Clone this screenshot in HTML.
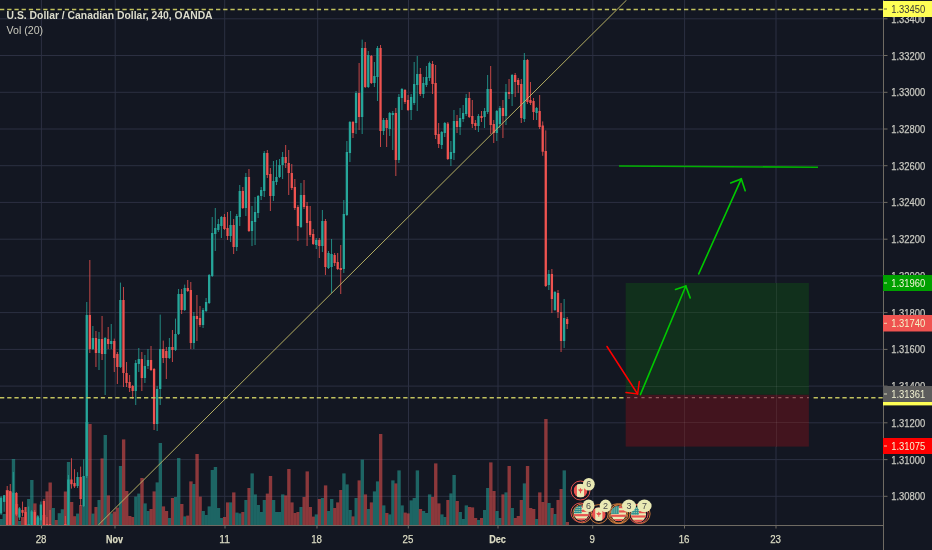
<!DOCTYPE html>
<html><head><meta charset="utf-8"><title>USDCAD chart</title>
<style>html,body{margin:0;padding:0;background:#131722;overflow:hidden}body{width:932px;height:550px;font-family:"Liberation Sans",sans-serif}</style>
</head><body>
<svg width="932" height="550" viewBox="0 0 932 550" style="display:block;filter:blur(0.4px);font-family:'Liberation Sans',sans-serif">
<rect width="932" height="550" fill="#131722"/>
<defs><clipPath id="pane"><rect x="0" y="0" width="883" height="525"/></clipPath></defs>
<g stroke="#2c3042" stroke-width="1">
<line x1="41.4" y1="0" x2="41.4" y2="525"/>
<line x1="115.2" y1="0" x2="115.2" y2="525"/>
<line x1="224.7" y1="0" x2="224.7" y2="525"/>
<line x1="317.7" y1="0" x2="317.7" y2="525"/>
<line x1="408.5" y1="0" x2="408.5" y2="525"/>
<line x1="498.0" y1="0" x2="498.0" y2="525"/>
<line x1="592.8" y1="0" x2="592.8" y2="525"/>
<line x1="684.6" y1="0" x2="684.6" y2="525"/>
<line x1="776.0" y1="0" x2="776.0" y2="525"/>
<line x1="0" y1="18.8" x2="883" y2="18.8"/>
<line x1="0" y1="55.5" x2="883" y2="55.5"/>
<line x1="0" y1="92.3" x2="883" y2="92.3"/>
<line x1="0" y1="129.0" x2="883" y2="129.0"/>
<line x1="0" y1="165.7" x2="883" y2="165.7"/>
<line x1="0" y1="202.4" x2="883" y2="202.4"/>
<line x1="0" y1="239.2" x2="883" y2="239.2"/>
<line x1="0" y1="275.9" x2="883" y2="275.9"/>
<line x1="0" y1="312.6" x2="883" y2="312.6"/>
<line x1="0" y1="349.4" x2="883" y2="349.4"/>
<line x1="0" y1="386.1" x2="883" y2="386.1"/>
<line x1="0" y1="422.8" x2="883" y2="422.8"/>
<line x1="0" y1="459.6" x2="883" y2="459.6"/>
<line x1="0" y1="496.3" x2="883" y2="496.3"/>
</g>
<g clip-path="url(#pane)">
<g opacity="0.55">
<rect x="-0.45" y="519.0" width="3.36" height="6.0" fill="#26a69a"/>
<rect x="2.61" y="514.0" width="3.36" height="11.0" fill="#26a69a"/>
<rect x="5.67" y="490.0" width="3.36" height="35.0" fill="#ef5350"/>
<rect x="8.73" y="492.0" width="3.36" height="33.0" fill="#ef5350"/>
<rect x="11.79" y="459.0" width="3.36" height="66.0" fill="#26a69a"/>
<rect x="14.85" y="504.0" width="3.36" height="21.0" fill="#ef5350"/>
<rect x="17.91" y="521.0" width="3.36" height="4.0" fill="#26a69a"/>
<rect x="20.97" y="517.0" width="3.36" height="8.0" fill="#ef5350"/>
<rect x="24.03" y="507.0" width="3.36" height="18.0" fill="#ef5350"/>
<rect x="27.09" y="499.0" width="3.36" height="26.0" fill="#26a69a"/>
<rect x="30.15" y="480.0" width="3.36" height="45.0" fill="#26a69a"/>
<rect x="33.21" y="503.4" width="3.36" height="21.6" fill="#ef5350"/>
<rect x="36.27" y="518.0" width="3.36" height="7.0" fill="#26a69a"/>
<rect x="39.33" y="520.0" width="3.36" height="5.0" fill="#26a69a"/>
<rect x="42.39" y="515.0" width="3.36" height="10.0" fill="#ef5350"/>
<rect x="45.45" y="491.4" width="3.36" height="33.6" fill="#ef5350"/>
<rect x="48.51" y="482.5" width="3.36" height="42.5" fill="#ef5350"/>
<rect x="51.57" y="508.0" width="3.36" height="17.0" fill="#26a69a"/>
<rect x="54.63" y="520.0" width="3.36" height="5.0" fill="#ef5350"/>
<rect x="57.69" y="513.2" width="3.36" height="11.8" fill="#26a69a"/>
<rect x="60.75" y="509.3" width="3.36" height="15.7" fill="#26a69a"/>
<rect x="63.81" y="491.5" width="3.36" height="33.5" fill="#ef5350"/>
<rect x="66.87" y="462.0" width="3.36" height="63.0" fill="#26a69a"/>
<rect x="69.93" y="502.0" width="3.36" height="23.0" fill="#ef5350"/>
<rect x="72.99" y="516.2" width="3.36" height="8.8" fill="#ef5350"/>
<rect x="76.05" y="513.6" width="3.36" height="11.4" fill="#26a69a"/>
<rect x="79.11" y="505.0" width="3.36" height="20.0" fill="#ef5350"/>
<rect x="82.17" y="506.0" width="3.36" height="19.0" fill="#26a69a"/>
<rect x="85.23" y="422.0" width="3.36" height="103.0" fill="#26a69a"/>
<rect x="88.29" y="424.0" width="3.36" height="101.0" fill="#ef5350"/>
<rect x="91.35" y="513.6" width="3.36" height="11.4" fill="#26a69a"/>
<rect x="94.41" y="507.0" width="3.36" height="18.0" fill="#ef5350"/>
<rect x="97.47" y="500.0" width="3.36" height="25.0" fill="#26a69a"/>
<rect x="100.53" y="458.4" width="3.36" height="66.6" fill="#ef5350"/>
<rect x="103.59" y="435.0" width="3.36" height="90.0" fill="#26a69a"/>
<rect x="106.65" y="495.4" width="3.36" height="29.6" fill="#ef5350"/>
<rect x="109.71" y="513.4" width="3.36" height="11.6" fill="#26a69a"/>
<rect x="112.77" y="511.6" width="3.36" height="13.4" fill="#ef5350"/>
<rect x="115.83" y="507.6" width="3.36" height="17.4" fill="#ef5350"/>
<rect x="118.89" y="466.0" width="3.36" height="59.0" fill="#26a69a"/>
<rect x="121.95" y="439.4" width="3.36" height="85.6" fill="#ef5350"/>
<rect x="125.01" y="491.0" width="3.36" height="34.0" fill="#ef5350"/>
<rect x="128.07" y="516.0" width="3.36" height="9.0" fill="#ef5350"/>
<rect x="131.13" y="517.0" width="3.36" height="8.0" fill="#ef5350"/>
<rect x="134.19" y="496.6" width="3.36" height="28.4" fill="#26a69a"/>
<rect x="137.25" y="493.6" width="3.36" height="31.4" fill="#26a69a"/>
<rect x="140.31" y="478.0" width="3.36" height="47.0" fill="#ef5350"/>
<rect x="143.37" y="503.4" width="3.36" height="21.6" fill="#26a69a"/>
<rect x="146.43" y="511.0" width="3.36" height="14.0" fill="#26a69a"/>
<rect x="149.49" y="509.0" width="3.36" height="16.0" fill="#ef5350"/>
<rect x="152.55" y="491.4" width="3.36" height="33.6" fill="#ef5350"/>
<rect x="155.61" y="482.4" width="3.36" height="42.6" fill="#26a69a"/>
<rect x="158.67" y="443.0" width="3.36" height="82.0" fill="#26a69a"/>
<rect x="161.73" y="506.4" width="3.36" height="18.6" fill="#ef5350"/>
<rect x="164.79" y="511.0" width="3.36" height="14.0" fill="#ef5350"/>
<rect x="167.85" y="518.0" width="3.36" height="7.0" fill="#26a69a"/>
<rect x="170.91" y="498.0" width="3.36" height="27.0" fill="#ef5350"/>
<rect x="173.97" y="497.0" width="3.36" height="28.0" fill="#26a69a"/>
<rect x="177.03" y="458.0" width="3.36" height="67.0" fill="#26a69a"/>
<rect x="180.09" y="504.0" width="3.36" height="21.0" fill="#ef5350"/>
<rect x="183.15" y="516.4" width="3.36" height="8.6" fill="#26a69a"/>
<rect x="186.21" y="515.6" width="3.36" height="9.4" fill="#ef5350"/>
<rect x="189.27" y="481.4" width="3.36" height="43.6" fill="#ef5350"/>
<rect x="192.33" y="484.0" width="3.36" height="41.0" fill="#26a69a"/>
<rect x="195.39" y="454.0" width="3.36" height="71.0" fill="#ef5350"/>
<rect x="198.45" y="496.6" width="3.36" height="28.4" fill="#ef5350"/>
<rect x="201.51" y="511.0" width="3.36" height="14.0" fill="#26a69a"/>
<rect x="204.57" y="515.0" width="3.36" height="10.0" fill="#26a69a"/>
<rect x="207.63" y="506.4" width="3.36" height="18.6" fill="#26a69a"/>
<rect x="210.69" y="470.0" width="3.36" height="55.0" fill="#26a69a"/>
<rect x="213.75" y="467.0" width="3.36" height="58.0" fill="#26a69a"/>
<rect x="216.81" y="508.0" width="3.36" height="17.0" fill="#26a69a"/>
<rect x="219.87" y="518.0" width="3.36" height="7.0" fill="#26a69a"/>
<rect x="222.93" y="517.0" width="3.36" height="8.0" fill="#ef5350"/>
<rect x="225.99" y="502.4" width="3.36" height="22.6" fill="#ef5350"/>
<rect x="229.05" y="502.4" width="3.36" height="22.6" fill="#26a69a"/>
<rect x="232.11" y="492.4" width="3.36" height="32.6" fill="#ef5350"/>
<rect x="235.17" y="512.6" width="3.36" height="12.4" fill="#26a69a"/>
<rect x="238.23" y="513.4" width="3.36" height="11.6" fill="#26a69a"/>
<rect x="241.29" y="512.0" width="3.36" height="13.0" fill="#ef5350"/>
<rect x="244.35" y="500.0" width="3.36" height="25.0" fill="#26a69a"/>
<rect x="247.41" y="488.0" width="3.36" height="37.0" fill="#ef5350"/>
<rect x="250.47" y="473.4" width="3.36" height="51.6" fill="#26a69a"/>
<rect x="253.53" y="494.4" width="3.36" height="30.6" fill="#26a69a"/>
<rect x="256.59" y="505.0" width="3.36" height="20.0" fill="#26a69a"/>
<rect x="259.65" y="512.0" width="3.36" height="13.0" fill="#26a69a"/>
<rect x="262.71" y="500.0" width="3.36" height="25.0" fill="#26a69a"/>
<rect x="265.77" y="493.6" width="3.36" height="31.4" fill="#ef5350"/>
<rect x="268.83" y="476.0" width="3.36" height="49.0" fill="#ef5350"/>
<rect x="271.89" y="500.0" width="3.36" height="25.0" fill="#26a69a"/>
<rect x="274.95" y="512.0" width="3.36" height="13.0" fill="#26a69a"/>
<rect x="278.01" y="512.0" width="3.36" height="13.0" fill="#26a69a"/>
<rect x="281.07" y="494.4" width="3.36" height="30.6" fill="#26a69a"/>
<rect x="284.13" y="495.4" width="3.36" height="29.6" fill="#ef5350"/>
<rect x="287.19" y="469.0" width="3.36" height="56.0" fill="#ef5350"/>
<rect x="290.25" y="502.4" width="3.36" height="22.6" fill="#ef5350"/>
<rect x="293.31" y="513.0" width="3.36" height="12.0" fill="#ef5350"/>
<rect x="296.37" y="512.0" width="3.36" height="13.0" fill="#ef5350"/>
<rect x="299.43" y="507.0" width="3.36" height="18.0" fill="#26a69a"/>
<rect x="302.49" y="497.0" width="3.36" height="28.0" fill="#ef5350"/>
<rect x="305.55" y="471.4" width="3.36" height="53.6" fill="#ef5350"/>
<rect x="308.61" y="507.0" width="3.36" height="18.0" fill="#ef5350"/>
<rect x="311.67" y="516.6" width="3.36" height="8.4" fill="#ef5350"/>
<rect x="314.73" y="514.4" width="3.36" height="10.6" fill="#26a69a"/>
<rect x="317.79" y="499.0" width="3.36" height="26.0" fill="#ef5350"/>
<rect x="320.85" y="498.0" width="3.36" height="27.0" fill="#26a69a"/>
<rect x="323.91" y="485.4" width="3.36" height="39.6" fill="#ef5350"/>
<rect x="326.97" y="511.0" width="3.36" height="14.0" fill="#26a69a"/>
<rect x="330.03" y="499.0" width="3.36" height="26.0" fill="#26a69a"/>
<rect x="333.09" y="508.0" width="3.36" height="17.0" fill="#ef5350"/>
<rect x="336.15" y="502.4" width="3.36" height="22.6" fill="#ef5350"/>
<rect x="339.21" y="490.0" width="3.36" height="35.0" fill="#ef5350"/>
<rect x="342.27" y="473.4" width="3.36" height="51.6" fill="#26a69a"/>
<rect x="345.33" y="484.4" width="3.36" height="40.6" fill="#26a69a"/>
<rect x="348.39" y="510.0" width="3.36" height="15.0" fill="#26a69a"/>
<rect x="351.45" y="516.4" width="3.36" height="8.6" fill="#ef5350"/>
<rect x="354.51" y="498.0" width="3.36" height="27.0" fill="#26a69a"/>
<rect x="357.57" y="480.4" width="3.36" height="44.6" fill="#ef5350"/>
<rect x="360.63" y="459.6" width="3.36" height="65.4" fill="#26a69a"/>
<rect x="363.69" y="494.4" width="3.36" height="30.6" fill="#ef5350"/>
<rect x="366.75" y="509.0" width="3.36" height="16.0" fill="#26a69a"/>
<rect x="369.81" y="502.4" width="3.36" height="22.6" fill="#ef5350"/>
<rect x="372.87" y="491.4" width="3.36" height="33.6" fill="#26a69a"/>
<rect x="375.93" y="481.4" width="3.36" height="43.6" fill="#26a69a"/>
<rect x="378.99" y="434.0" width="3.36" height="91.0" fill="#ef5350"/>
<rect x="382.05" y="505.4" width="3.36" height="19.6" fill="#26a69a"/>
<rect x="385.11" y="513.0" width="3.36" height="12.0" fill="#ef5350"/>
<rect x="388.17" y="514.4" width="3.36" height="10.6" fill="#26a69a"/>
<rect x="391.23" y="480.4" width="3.36" height="44.6" fill="#26a69a"/>
<rect x="394.29" y="483.4" width="3.36" height="41.6" fill="#ef5350"/>
<rect x="397.35" y="470.4" width="3.36" height="54.6" fill="#26a69a"/>
<rect x="400.41" y="505.4" width="3.36" height="19.6" fill="#26a69a"/>
<rect x="403.47" y="512.6" width="3.36" height="12.4" fill="#ef5350"/>
<rect x="406.53" y="513.4" width="3.36" height="11.6" fill="#ef5350"/>
<rect x="409.59" y="500.4" width="3.36" height="24.6" fill="#26a69a"/>
<rect x="412.65" y="498.0" width="3.36" height="27.0" fill="#26a69a"/>
<rect x="415.71" y="470.4" width="3.36" height="54.6" fill="#26a69a"/>
<rect x="418.77" y="509.0" width="3.36" height="16.0" fill="#ef5350"/>
<rect x="421.83" y="511.0" width="3.36" height="14.0" fill="#26a69a"/>
<rect x="424.89" y="513.0" width="3.36" height="12.0" fill="#26a69a"/>
<rect x="427.95" y="494.4" width="3.36" height="30.6" fill="#26a69a"/>
<rect x="431.01" y="497.0" width="3.36" height="28.0" fill="#ef5350"/>
<rect x="434.07" y="463.4" width="3.36" height="61.6" fill="#ef5350"/>
<rect x="437.13" y="503.4" width="3.36" height="21.6" fill="#ef5350"/>
<rect x="440.19" y="514.4" width="3.36" height="10.6" fill="#26a69a"/>
<rect x="443.25" y="517.0" width="3.36" height="8.0" fill="#26a69a"/>
<rect x="446.31" y="500.0" width="3.36" height="25.0" fill="#ef5350"/>
<rect x="449.37" y="493.4" width="3.36" height="31.6" fill="#26a69a"/>
<rect x="452.43" y="475.0" width="3.36" height="50.0" fill="#26a69a"/>
<rect x="455.49" y="501.0" width="3.36" height="24.0" fill="#ef5350"/>
<rect x="458.55" y="512.0" width="3.36" height="13.0" fill="#26a69a"/>
<rect x="461.61" y="519.0" width="3.36" height="6.0" fill="#26a69a"/>
<rect x="464.67" y="505.4" width="3.36" height="19.6" fill="#26a69a"/>
<rect x="467.73" y="507.0" width="3.36" height="18.0" fill="#ef5350"/>
<rect x="470.79" y="507.4" width="3.36" height="17.6" fill="#ef5350"/>
<rect x="473.85" y="518.0" width="3.36" height="7.0" fill="#ef5350"/>
<rect x="476.91" y="520.0" width="3.36" height="5.0" fill="#26a69a"/>
<rect x="479.97" y="518.0" width="3.36" height="7.0" fill="#ef5350"/>
<rect x="483.03" y="510.0" width="3.36" height="15.0" fill="#26a69a"/>
<rect x="486.09" y="488.0" width="3.36" height="37.0" fill="#26a69a"/>
<rect x="489.15" y="462.4" width="3.36" height="62.6" fill="#ef5350"/>
<rect x="492.21" y="491.0" width="3.36" height="34.0" fill="#ef5350"/>
<rect x="495.27" y="511.0" width="3.36" height="14.0" fill="#26a69a"/>
<rect x="498.33" y="518.0" width="3.36" height="7.0" fill="#26a69a"/>
<rect x="501.39" y="494.4" width="3.36" height="30.6" fill="#ef5350"/>
<rect x="504.45" y="492.4" width="3.36" height="32.6" fill="#26a69a"/>
<rect x="507.51" y="466.0" width="3.36" height="59.0" fill="#ef5350"/>
<rect x="510.57" y="508.0" width="3.36" height="17.0" fill="#26a69a"/>
<rect x="513.63" y="518.0" width="3.36" height="7.0" fill="#ef5350"/>
<rect x="516.69" y="516.0" width="3.36" height="9.0" fill="#ef5350"/>
<rect x="519.75" y="500.0" width="3.36" height="25.0" fill="#ef5350"/>
<rect x="522.81" y="483.4" width="3.36" height="41.6" fill="#26a69a"/>
<rect x="525.87" y="466.0" width="3.36" height="59.0" fill="#ef5350"/>
<rect x="528.93" y="508.0" width="3.36" height="17.0" fill="#ef5350"/>
<rect x="531.99" y="509.0" width="3.36" height="16.0" fill="#ef5350"/>
<rect x="535.05" y="519.0" width="3.36" height="6.0" fill="#26a69a"/>
<rect x="538.11" y="492.4" width="3.36" height="32.6" fill="#ef5350"/>
<rect x="541.17" y="502.0" width="3.36" height="23.0" fill="#ef5350"/>
<rect x="544.23" y="419.0" width="3.36" height="106.0" fill="#ef5350"/>
<rect x="547.29" y="503.0" width="3.36" height="22.0" fill="#26a69a"/>
<rect x="550.35" y="508.0" width="3.36" height="17.0" fill="#ef5350"/>
<rect x="553.41" y="514.0" width="3.36" height="11.0" fill="#26a69a"/>
<rect x="556.47" y="500.0" width="3.36" height="25.0" fill="#ef5350"/>
<rect x="559.53" y="489.0" width="3.36" height="36.0" fill="#ef5350"/>
<rect x="562.59" y="470.4" width="3.36" height="54.6" fill="#26a69a"/>
<rect x="565.65" y="522.0" width="3.36" height="3.0" fill="#ef5350"/>
</g>
<rect x="0.58" y="496.0" width="1" height="19.0" fill="#26a69a" opacity="0.8"/>
<rect x="-0.07" y="497.6" width="2.3" height="15.9" fill="#26a69a"/>
<rect x="3.64" y="495.0" width="1" height="16.8" fill="#26a69a" opacity="0.8"/>
<rect x="2.99" y="495.3" width="2.3" height="6.6" fill="#26a69a"/>
<rect x="6.70" y="486.0" width="1" height="39.0" fill="#ef5350" opacity="0.8"/>
<rect x="6.05" y="490.5" width="2.3" height="34.5" fill="#ef5350"/>
<rect x="9.76" y="484.0" width="1" height="41.0" fill="#ef5350" opacity="0.8"/>
<rect x="9.11" y="491.0" width="2.3" height="34.0" fill="#ef5350"/>
<rect x="12.82" y="472.0" width="1" height="53.0" fill="#26a69a" opacity="0.8"/>
<rect x="12.17" y="492.7" width="2.3" height="32.3" fill="#26a69a"/>
<rect x="15.88" y="492.0" width="1" height="24.0" fill="#ef5350" opacity="0.8"/>
<rect x="15.23" y="493.0" width="2.3" height="21.5" fill="#ef5350"/>
<rect x="18.94" y="507.0" width="1" height="13.0" fill="#26a69a" opacity="0.8"/>
<rect x="18.29" y="508.3" width="2.3" height="9.2" fill="#26a69a"/>
<rect x="22.00" y="501.6" width="1" height="14.7" fill="#ef5350" opacity="0.8"/>
<rect x="21.35" y="510.0" width="2.3" height="2.8" fill="#ef5350"/>
<rect x="25.06" y="507.0" width="1" height="18.0" fill="#ef5350" opacity="0.8"/>
<rect x="24.41" y="512.0" width="2.3" height="13.0" fill="#ef5350"/>
<rect x="28.12" y="506.5" width="1" height="18.5" fill="#26a69a" opacity="0.8"/>
<rect x="27.47" y="524.0" width="2.3" height="1.0" fill="#26a69a"/>
<rect x="31.18" y="510.0" width="1" height="15.0" fill="#26a69a" opacity="0.8"/>
<rect x="30.53" y="511.4" width="2.3" height="13.6" fill="#26a69a"/>
<rect x="34.24" y="510.0" width="1" height="15.0" fill="#ef5350" opacity="0.8"/>
<rect x="33.59" y="511.9" width="2.3" height="13.1" fill="#ef5350"/>
<rect x="37.30" y="515.0" width="1" height="10.0" fill="#26a69a" opacity="0.8"/>
<rect x="36.65" y="516.3" width="2.3" height="8.7" fill="#26a69a"/>
<rect x="40.36" y="501.5" width="1" height="23.5" fill="#26a69a" opacity="0.8"/>
<rect x="39.71" y="504.5" width="2.3" height="15.8" fill="#26a69a"/>
<rect x="43.42" y="498.9" width="1" height="26.1" fill="#ef5350" opacity="0.8"/>
<rect x="42.77" y="501.0" width="2.3" height="24.0" fill="#ef5350"/>
<rect x="46.48" y="517.0" width="1" height="8.0" fill="#ef5350" opacity="0.8"/>
<rect x="45.83" y="524.0" width="2.3" height="1.0" fill="#ef5350"/>
<rect x="49.54" y="510.0" width="1" height="15.0" fill="#ef5350" opacity="0.8"/>
<rect x="48.89" y="524.0" width="2.3" height="1.0" fill="#ef5350"/>
<rect x="64.84" y="516.0" width="1" height="9.0" fill="#ef5350" opacity="0.8"/>
<rect x="64.19" y="524.0" width="2.3" height="1.0" fill="#ef5350"/>
<rect x="67.90" y="475.0" width="1" height="50.0" fill="#26a69a" opacity="0.8"/>
<rect x="67.25" y="479.5" width="2.3" height="45.5" fill="#26a69a"/>
<rect x="70.96" y="458.2" width="1" height="30.4" fill="#ef5350" opacity="0.8"/>
<rect x="70.31" y="479.5" width="2.3" height="4.7" fill="#ef5350"/>
<rect x="74.02" y="469.2" width="1" height="18.8" fill="#ef5350" opacity="0.8"/>
<rect x="73.37" y="483.0" width="2.3" height="3.4" fill="#ef5350"/>
<rect x="77.08" y="472.2" width="1" height="15.8" fill="#26a69a" opacity="0.8"/>
<rect x="76.43" y="477.0" width="2.3" height="9.0" fill="#26a69a"/>
<rect x="80.14" y="466.6" width="1" height="39.4" fill="#ef5350" opacity="0.8"/>
<rect x="79.49" y="477.0" width="2.3" height="22.0" fill="#ef5350"/>
<rect x="83.20" y="459.3" width="1" height="47.7" fill="#26a69a" opacity="0.8"/>
<rect x="82.55" y="476.0" width="2.3" height="30.0" fill="#26a69a"/>
<rect x="86.26" y="302.0" width="1" height="176.0" fill="#26a69a" opacity="0.8"/>
<rect x="85.61" y="315.0" width="2.3" height="161.0" fill="#26a69a"/>
<rect x="89.32" y="260.0" width="1" height="93.0" fill="#ef5350" opacity="0.8"/>
<rect x="88.67" y="315.0" width="2.3" height="34.0" fill="#ef5350"/>
<rect x="92.38" y="326.0" width="1" height="24.0" fill="#26a69a" opacity="0.8"/>
<rect x="91.73" y="338.0" width="2.3" height="11.0" fill="#26a69a"/>
<rect x="95.44" y="331.0" width="1" height="36.0" fill="#ef5350" opacity="0.8"/>
<rect x="94.79" y="338.0" width="2.3" height="15.0" fill="#ef5350"/>
<rect x="98.50" y="332.0" width="1" height="38.0" fill="#26a69a" opacity="0.8"/>
<rect x="97.85" y="339.0" width="2.3" height="14.0" fill="#26a69a"/>
<rect x="101.56" y="316.0" width="1" height="44.0" fill="#ef5350" opacity="0.8"/>
<rect x="100.91" y="339.0" width="2.3" height="15.0" fill="#ef5350"/>
<rect x="104.62" y="337.0" width="1" height="58.0" fill="#26a69a" opacity="0.8"/>
<rect x="103.97" y="338.0" width="2.3" height="16.0" fill="#26a69a"/>
<rect x="107.68" y="327.0" width="1" height="22.0" fill="#ef5350" opacity="0.8"/>
<rect x="107.03" y="339.0" width="2.3" height="5.0" fill="#ef5350"/>
<rect x="110.74" y="324.0" width="1" height="25.0" fill="#26a69a" opacity="0.8"/>
<rect x="110.09" y="341.0" width="2.3" height="3.0" fill="#26a69a"/>
<rect x="113.80" y="338.6" width="1" height="33.4" fill="#ef5350" opacity="0.8"/>
<rect x="113.15" y="341.0" width="2.3" height="17.0" fill="#ef5350"/>
<rect x="116.86" y="352.0" width="1" height="32.0" fill="#ef5350" opacity="0.8"/>
<rect x="116.21" y="354.0" width="2.3" height="13.0" fill="#ef5350"/>
<rect x="119.92" y="282.6" width="1" height="85.4" fill="#26a69a" opacity="0.8"/>
<rect x="119.27" y="300.0" width="2.3" height="67.0" fill="#26a69a"/>
<rect x="122.98" y="287.0" width="1" height="100.0" fill="#ef5350" opacity="0.8"/>
<rect x="122.33" y="300.0" width="2.3" height="73.0" fill="#ef5350"/>
<rect x="126.04" y="362.0" width="1" height="25.0" fill="#ef5350" opacity="0.8"/>
<rect x="125.39" y="373.0" width="2.3" height="10.0" fill="#ef5350"/>
<rect x="129.10" y="375.0" width="1" height="17.0" fill="#ef5350" opacity="0.8"/>
<rect x="128.45" y="382.0" width="2.3" height="6.0" fill="#ef5350"/>
<rect x="132.16" y="385.0" width="1" height="14.0" fill="#ef5350" opacity="0.8"/>
<rect x="131.51" y="386.0" width="2.3" height="5.0" fill="#ef5350"/>
<rect x="135.22" y="360.0" width="1" height="45.0" fill="#26a69a" opacity="0.8"/>
<rect x="134.57" y="363.0" width="2.3" height="28.0" fill="#26a69a"/>
<rect x="138.28" y="348.0" width="1" height="24.0" fill="#26a69a" opacity="0.8"/>
<rect x="137.63" y="359.0" width="2.3" height="5.0" fill="#26a69a"/>
<rect x="141.34" y="352.0" width="1" height="39.0" fill="#ef5350" opacity="0.8"/>
<rect x="140.69" y="359.0" width="2.3" height="19.0" fill="#ef5350"/>
<rect x="144.40" y="355.0" width="1" height="28.0" fill="#26a69a" opacity="0.8"/>
<rect x="143.75" y="366.0" width="2.3" height="12.0" fill="#26a69a"/>
<rect x="147.46" y="349.0" width="1" height="20.0" fill="#26a69a" opacity="0.8"/>
<rect x="146.81" y="360.0" width="2.3" height="6.0" fill="#26a69a"/>
<rect x="150.52" y="346.0" width="1" height="25.0" fill="#ef5350" opacity="0.8"/>
<rect x="149.87" y="360.0" width="2.3" height="10.0" fill="#ef5350"/>
<rect x="153.58" y="368.0" width="1" height="62.0" fill="#ef5350" opacity="0.8"/>
<rect x="152.93" y="369.0" width="2.3" height="55.0" fill="#ef5350"/>
<rect x="156.64" y="386.0" width="1" height="45.0" fill="#26a69a" opacity="0.8"/>
<rect x="155.99" y="389.0" width="2.3" height="35.0" fill="#26a69a"/>
<rect x="159.70" y="314.6" width="1" height="90.4" fill="#26a69a" opacity="0.8"/>
<rect x="159.05" y="349.0" width="2.3" height="40.0" fill="#26a69a"/>
<rect x="162.76" y="340.6" width="1" height="22.4" fill="#ef5350" opacity="0.8"/>
<rect x="162.11" y="349.0" width="2.3" height="9.0" fill="#ef5350"/>
<rect x="165.82" y="347.0" width="1" height="32.0" fill="#ef5350" opacity="0.8"/>
<rect x="165.17" y="351.0" width="2.3" height="7.0" fill="#ef5350"/>
<rect x="168.88" y="338.0" width="1" height="21.0" fill="#26a69a" opacity="0.8"/>
<rect x="168.23" y="347.0" width="2.3" height="11.0" fill="#26a69a"/>
<rect x="171.94" y="330.0" width="1" height="32.0" fill="#ef5350" opacity="0.8"/>
<rect x="171.29" y="347.0" width="2.3" height="3.0" fill="#ef5350"/>
<rect x="175.00" y="318.6" width="1" height="32.4" fill="#26a69a" opacity="0.8"/>
<rect x="174.35" y="334.0" width="2.3" height="16.0" fill="#26a69a"/>
<rect x="178.06" y="289.0" width="1" height="46.0" fill="#26a69a" opacity="0.8"/>
<rect x="177.41" y="294.0" width="2.3" height="40.0" fill="#26a69a"/>
<rect x="181.12" y="289.0" width="1" height="25.0" fill="#ef5350" opacity="0.8"/>
<rect x="180.47" y="294.0" width="2.3" height="16.0" fill="#ef5350"/>
<rect x="184.18" y="284.6" width="1" height="26.4" fill="#26a69a" opacity="0.8"/>
<rect x="183.53" y="288.0" width="2.3" height="22.0" fill="#26a69a"/>
<rect x="187.24" y="280.0" width="1" height="12.0" fill="#ef5350" opacity="0.8"/>
<rect x="186.59" y="288.0" width="2.3" height="3.0" fill="#ef5350"/>
<rect x="190.30" y="282.0" width="1" height="67.0" fill="#ef5350" opacity="0.8"/>
<rect x="189.65" y="290.0" width="2.3" height="53.0" fill="#ef5350"/>
<rect x="193.36" y="312.0" width="1" height="37.0" fill="#26a69a" opacity="0.8"/>
<rect x="192.71" y="316.0" width="2.3" height="27.0" fill="#26a69a"/>
<rect x="196.42" y="295.0" width="1" height="46.0" fill="#ef5350" opacity="0.8"/>
<rect x="195.77" y="316.0" width="2.3" height="3.0" fill="#ef5350"/>
<rect x="199.48" y="306.0" width="1" height="21.0" fill="#ef5350" opacity="0.8"/>
<rect x="198.83" y="318.0" width="2.3" height="7.0" fill="#ef5350"/>
<rect x="202.54" y="308.0" width="1" height="20.0" fill="#26a69a" opacity="0.8"/>
<rect x="201.89" y="310.0" width="2.3" height="15.0" fill="#26a69a"/>
<rect x="205.60" y="298.0" width="1" height="14.0" fill="#26a69a" opacity="0.8"/>
<rect x="204.95" y="302.0" width="2.3" height="9.0" fill="#26a69a"/>
<rect x="208.66" y="274.0" width="1" height="30.0" fill="#26a69a" opacity="0.8"/>
<rect x="208.01" y="275.0" width="2.3" height="28.0" fill="#26a69a"/>
<rect x="211.72" y="217.0" width="1" height="60.0" fill="#26a69a" opacity="0.8"/>
<rect x="211.07" y="233.0" width="2.3" height="43.0" fill="#26a69a"/>
<rect x="214.78" y="208.0" width="1" height="43.0" fill="#26a69a" opacity="0.8"/>
<rect x="214.13" y="228.0" width="2.3" height="6.0" fill="#26a69a"/>
<rect x="217.84" y="219.0" width="1" height="13.0" fill="#26a69a" opacity="0.8"/>
<rect x="217.19" y="224.0" width="2.3" height="6.0" fill="#26a69a"/>
<rect x="220.90" y="216.0" width="1" height="22.0" fill="#26a69a" opacity="0.8"/>
<rect x="220.25" y="217.0" width="2.3" height="9.0" fill="#26a69a"/>
<rect x="223.96" y="214.0" width="1" height="16.0" fill="#ef5350" opacity="0.8"/>
<rect x="223.31" y="217.0" width="2.3" height="12.0" fill="#ef5350"/>
<rect x="227.02" y="212.0" width="1" height="28.0" fill="#ef5350" opacity="0.8"/>
<rect x="226.37" y="228.0" width="2.3" height="8.0" fill="#ef5350"/>
<rect x="230.08" y="211.0" width="1" height="31.0" fill="#26a69a" opacity="0.8"/>
<rect x="229.43" y="225.0" width="2.3" height="11.0" fill="#26a69a"/>
<rect x="233.14" y="219.0" width="1" height="35.0" fill="#ef5350" opacity="0.8"/>
<rect x="232.49" y="225.0" width="2.3" height="22.0" fill="#ef5350"/>
<rect x="236.20" y="214.0" width="1" height="37.0" fill="#26a69a" opacity="0.8"/>
<rect x="235.55" y="216.0" width="2.3" height="31.0" fill="#26a69a"/>
<rect x="239.26" y="185.0" width="1" height="41.0" fill="#26a69a" opacity="0.8"/>
<rect x="238.61" y="191.0" width="2.3" height="26.0" fill="#26a69a"/>
<rect x="242.32" y="187.0" width="1" height="22.0" fill="#ef5350" opacity="0.8"/>
<rect x="241.67" y="191.0" width="2.3" height="17.0" fill="#ef5350"/>
<rect x="245.38" y="173.0" width="1" height="43.0" fill="#26a69a" opacity="0.8"/>
<rect x="244.73" y="177.0" width="2.3" height="31.0" fill="#26a69a"/>
<rect x="248.44" y="169.0" width="1" height="63.0" fill="#ef5350" opacity="0.8"/>
<rect x="247.79" y="177.0" width="2.3" height="54.0" fill="#ef5350"/>
<rect x="251.50" y="206.0" width="1" height="40.0" fill="#26a69a" opacity="0.8"/>
<rect x="250.85" y="221.0" width="2.3" height="10.0" fill="#26a69a"/>
<rect x="254.56" y="197.0" width="1" height="48.0" fill="#26a69a" opacity="0.8"/>
<rect x="253.91" y="212.0" width="2.3" height="10.0" fill="#26a69a"/>
<rect x="257.62" y="195.0" width="1" height="23.0" fill="#26a69a" opacity="0.8"/>
<rect x="256.97" y="196.0" width="2.3" height="17.0" fill="#26a69a"/>
<rect x="260.68" y="187.0" width="1" height="13.0" fill="#26a69a" opacity="0.8"/>
<rect x="260.03" y="190.0" width="2.3" height="6.0" fill="#26a69a"/>
<rect x="263.74" y="151.0" width="1" height="46.0" fill="#26a69a" opacity="0.8"/>
<rect x="263.09" y="153.0" width="2.3" height="38.0" fill="#26a69a"/>
<rect x="266.80" y="150.0" width="1" height="28.0" fill="#ef5350" opacity="0.8"/>
<rect x="266.15" y="153.0" width="2.3" height="22.0" fill="#ef5350"/>
<rect x="269.86" y="168.0" width="1" height="43.0" fill="#ef5350" opacity="0.8"/>
<rect x="269.21" y="174.0" width="2.3" height="22.0" fill="#ef5350"/>
<rect x="272.92" y="161.0" width="1" height="40.0" fill="#26a69a" opacity="0.8"/>
<rect x="272.27" y="181.0" width="2.3" height="15.0" fill="#26a69a"/>
<rect x="275.98" y="160.0" width="1" height="25.0" fill="#26a69a" opacity="0.8"/>
<rect x="275.33" y="177.0" width="2.3" height="5.0" fill="#26a69a"/>
<rect x="279.04" y="159.0" width="1" height="19.0" fill="#26a69a" opacity="0.8"/>
<rect x="278.39" y="165.0" width="2.3" height="12.0" fill="#26a69a"/>
<rect x="282.10" y="152.0" width="1" height="27.0" fill="#26a69a" opacity="0.8"/>
<rect x="281.45" y="157.0" width="2.3" height="8.0" fill="#26a69a"/>
<rect x="285.16" y="145.0" width="1" height="23.0" fill="#ef5350" opacity="0.8"/>
<rect x="284.51" y="157.0" width="2.3" height="6.0" fill="#ef5350"/>
<rect x="288.22" y="150.0" width="1" height="45.0" fill="#ef5350" opacity="0.8"/>
<rect x="287.57" y="163.0" width="2.3" height="10.0" fill="#ef5350"/>
<rect x="291.28" y="164.0" width="1" height="26.0" fill="#ef5350" opacity="0.8"/>
<rect x="290.63" y="173.0" width="2.3" height="15.0" fill="#ef5350"/>
<rect x="294.34" y="179.0" width="1" height="31.0" fill="#ef5350" opacity="0.8"/>
<rect x="293.69" y="187.0" width="2.3" height="21.0" fill="#ef5350"/>
<rect x="297.40" y="205.0" width="1" height="36.0" fill="#ef5350" opacity="0.8"/>
<rect x="296.75" y="207.0" width="2.3" height="19.0" fill="#ef5350"/>
<rect x="300.46" y="183.0" width="1" height="45.0" fill="#26a69a" opacity="0.8"/>
<rect x="299.81" y="195.0" width="2.3" height="32.0" fill="#26a69a"/>
<rect x="303.52" y="180.0" width="1" height="29.0" fill="#ef5350" opacity="0.8"/>
<rect x="302.87" y="195.0" width="2.3" height="12.0" fill="#ef5350"/>
<rect x="306.58" y="202.0" width="1" height="44.0" fill="#ef5350" opacity="0.8"/>
<rect x="305.93" y="206.0" width="2.3" height="17.0" fill="#ef5350"/>
<rect x="309.64" y="206.0" width="1" height="31.0" fill="#ef5350" opacity="0.8"/>
<rect x="308.99" y="221.0" width="2.3" height="14.0" fill="#ef5350"/>
<rect x="312.70" y="229.0" width="1" height="16.0" fill="#ef5350" opacity="0.8"/>
<rect x="312.05" y="234.0" width="2.3" height="10.0" fill="#ef5350"/>
<rect x="315.76" y="238.0" width="1" height="11.0" fill="#26a69a" opacity="0.8"/>
<rect x="315.11" y="240.0" width="2.3" height="5.0" fill="#26a69a"/>
<rect x="318.82" y="238.0" width="1" height="20.0" fill="#ef5350" opacity="0.8"/>
<rect x="318.17" y="240.0" width="2.3" height="6.0" fill="#ef5350"/>
<rect x="321.88" y="210.0" width="1" height="42.0" fill="#26a69a" opacity="0.8"/>
<rect x="321.23" y="221.0" width="2.3" height="25.0" fill="#26a69a"/>
<rect x="324.94" y="219.0" width="1" height="56.0" fill="#ef5350" opacity="0.8"/>
<rect x="324.29" y="221.0" width="2.3" height="46.0" fill="#ef5350"/>
<rect x="328.00" y="251.0" width="1" height="18.0" fill="#26a69a" opacity="0.8"/>
<rect x="327.35" y="253.0" width="2.3" height="15.0" fill="#26a69a"/>
<rect x="331.06" y="239.0" width="1" height="54.0" fill="#26a69a" opacity="0.8"/>
<rect x="330.41" y="254.0" width="2.3" height="13.0" fill="#26a69a"/>
<rect x="334.12" y="253.0" width="1" height="13.0" fill="#ef5350" opacity="0.8"/>
<rect x="333.47" y="255.0" width="2.3" height="8.0" fill="#ef5350"/>
<rect x="337.18" y="253.0" width="1" height="17.0" fill="#ef5350" opacity="0.8"/>
<rect x="336.53" y="262.0" width="2.3" height="7.0" fill="#ef5350"/>
<rect x="340.24" y="245.0" width="1" height="49.0" fill="#ef5350" opacity="0.8"/>
<rect x="339.59" y="268.0" width="2.3" height="2.0" fill="#ef5350"/>
<rect x="343.30" y="200.0" width="1" height="73.0" fill="#26a69a" opacity="0.8"/>
<rect x="342.65" y="214.0" width="2.3" height="55.0" fill="#26a69a"/>
<rect x="346.36" y="141.0" width="1" height="75.0" fill="#26a69a" opacity="0.8"/>
<rect x="345.71" y="152.0" width="2.3" height="63.0" fill="#26a69a"/>
<rect x="349.42" y="121.0" width="1" height="41.0" fill="#26a69a" opacity="0.8"/>
<rect x="348.77" y="122.0" width="2.3" height="31.0" fill="#26a69a"/>
<rect x="352.48" y="121.0" width="1" height="17.0" fill="#ef5350" opacity="0.8"/>
<rect x="351.83" y="122.0" width="2.3" height="11.0" fill="#ef5350"/>
<rect x="355.54" y="91.0" width="1" height="43.0" fill="#26a69a" opacity="0.8"/>
<rect x="354.89" y="93.0" width="2.3" height="30.0" fill="#26a69a"/>
<rect x="358.60" y="63.0" width="1" height="67.0" fill="#ef5350" opacity="0.8"/>
<rect x="357.95" y="93.0" width="2.3" height="24.0" fill="#ef5350"/>
<rect x="361.66" y="39.6" width="1" height="94.4" fill="#26a69a" opacity="0.8"/>
<rect x="361.01" y="48.0" width="2.3" height="69.0" fill="#26a69a"/>
<rect x="364.72" y="42.0" width="1" height="46.0" fill="#ef5350" opacity="0.8"/>
<rect x="364.07" y="48.0" width="2.3" height="39.0" fill="#ef5350"/>
<rect x="367.78" y="51.0" width="1" height="37.0" fill="#26a69a" opacity="0.8"/>
<rect x="367.13" y="55.0" width="2.3" height="32.0" fill="#26a69a"/>
<rect x="370.84" y="55.0" width="1" height="29.0" fill="#ef5350" opacity="0.8"/>
<rect x="370.19" y="56.0" width="2.3" height="27.0" fill="#ef5350"/>
<rect x="373.90" y="62.0" width="1" height="25.0" fill="#26a69a" opacity="0.8"/>
<rect x="373.25" y="76.0" width="2.3" height="7.0" fill="#26a69a"/>
<rect x="376.96" y="46.0" width="1" height="55.0" fill="#26a69a" opacity="0.8"/>
<rect x="376.31" y="48.0" width="2.3" height="29.0" fill="#26a69a"/>
<rect x="380.02" y="45.0" width="1" height="102.0" fill="#ef5350" opacity="0.8"/>
<rect x="379.37" y="48.0" width="2.3" height="83.0" fill="#ef5350"/>
<rect x="383.08" y="118.0" width="1" height="17.0" fill="#26a69a" opacity="0.8"/>
<rect x="382.43" y="120.0" width="2.3" height="11.0" fill="#26a69a"/>
<rect x="386.14" y="118.0" width="1" height="29.0" fill="#ef5350" opacity="0.8"/>
<rect x="385.49" y="120.0" width="2.3" height="8.0" fill="#ef5350"/>
<rect x="389.20" y="112.0" width="1" height="24.0" fill="#26a69a" opacity="0.8"/>
<rect x="388.55" y="113.0" width="2.3" height="16.0" fill="#26a69a"/>
<rect x="392.26" y="111.0" width="1" height="39.0" fill="#26a69a" opacity="0.8"/>
<rect x="391.61" y="113.0" width="2.3" height="2.0" fill="#26a69a"/>
<rect x="395.32" y="108.0" width="1" height="68.0" fill="#ef5350" opacity="0.8"/>
<rect x="394.67" y="113.0" width="2.3" height="47.0" fill="#ef5350"/>
<rect x="398.38" y="94.0" width="1" height="69.0" fill="#26a69a" opacity="0.8"/>
<rect x="397.73" y="97.0" width="2.3" height="63.0" fill="#26a69a"/>
<rect x="401.44" y="88.0" width="1" height="22.0" fill="#26a69a" opacity="0.8"/>
<rect x="400.79" y="89.0" width="2.3" height="9.0" fill="#26a69a"/>
<rect x="404.50" y="89.0" width="1" height="15.0" fill="#ef5350" opacity="0.8"/>
<rect x="403.85" y="90.0" width="2.3" height="12.0" fill="#ef5350"/>
<rect x="407.56" y="95.0" width="1" height="16.0" fill="#ef5350" opacity="0.8"/>
<rect x="406.91" y="100.0" width="2.3" height="10.0" fill="#ef5350"/>
<rect x="410.62" y="94.0" width="1" height="26.0" fill="#26a69a" opacity="0.8"/>
<rect x="409.97" y="97.0" width="2.3" height="13.0" fill="#26a69a"/>
<rect x="413.68" y="62.0" width="1" height="43.0" fill="#26a69a" opacity="0.8"/>
<rect x="413.03" y="84.0" width="2.3" height="19.0" fill="#26a69a"/>
<rect x="416.74" y="56.0" width="1" height="55.0" fill="#26a69a" opacity="0.8"/>
<rect x="416.09" y="74.0" width="2.3" height="11.0" fill="#26a69a"/>
<rect x="419.80" y="68.0" width="1" height="28.0" fill="#ef5350" opacity="0.8"/>
<rect x="419.15" y="74.0" width="2.3" height="20.0" fill="#ef5350"/>
<rect x="422.86" y="77.0" width="1" height="21.0" fill="#26a69a" opacity="0.8"/>
<rect x="422.21" y="83.0" width="2.3" height="11.0" fill="#26a69a"/>
<rect x="425.92" y="66.0" width="1" height="21.0" fill="#26a69a" opacity="0.8"/>
<rect x="425.27" y="77.0" width="2.3" height="8.0" fill="#26a69a"/>
<rect x="428.98" y="61.6" width="1" height="19.4" fill="#26a69a" opacity="0.8"/>
<rect x="428.33" y="63.0" width="2.3" height="15.0" fill="#26a69a"/>
<rect x="432.04" y="61.0" width="1" height="33.0" fill="#ef5350" opacity="0.8"/>
<rect x="431.39" y="64.0" width="2.3" height="20.0" fill="#ef5350"/>
<rect x="435.10" y="65.0" width="1" height="74.0" fill="#ef5350" opacity="0.8"/>
<rect x="434.45" y="83.0" width="2.3" height="52.0" fill="#ef5350"/>
<rect x="438.16" y="123.0" width="1" height="25.0" fill="#ef5350" opacity="0.8"/>
<rect x="437.51" y="134.0" width="2.3" height="10.0" fill="#ef5350"/>
<rect x="441.22" y="131.0" width="1" height="18.0" fill="#26a69a" opacity="0.8"/>
<rect x="440.57" y="132.0" width="2.3" height="13.0" fill="#26a69a"/>
<rect x="444.28" y="122.0" width="1" height="15.0" fill="#26a69a" opacity="0.8"/>
<rect x="443.63" y="123.0" width="2.3" height="10.0" fill="#26a69a"/>
<rect x="447.34" y="122.0" width="1" height="38.0" fill="#ef5350" opacity="0.8"/>
<rect x="446.69" y="123.6" width="2.3" height="35.4" fill="#ef5350"/>
<rect x="450.40" y="141.0" width="1" height="25.0" fill="#26a69a" opacity="0.8"/>
<rect x="449.75" y="152.0" width="2.3" height="7.0" fill="#26a69a"/>
<rect x="453.46" y="110.0" width="1" height="50.0" fill="#26a69a" opacity="0.8"/>
<rect x="452.81" y="121.0" width="2.3" height="32.0" fill="#26a69a"/>
<rect x="456.52" y="115.0" width="1" height="18.0" fill="#ef5350" opacity="0.8"/>
<rect x="455.87" y="121.0" width="2.3" height="6.0" fill="#ef5350"/>
<rect x="459.58" y="108.0" width="1" height="27.0" fill="#26a69a" opacity="0.8"/>
<rect x="458.93" y="118.0" width="2.3" height="9.0" fill="#26a69a"/>
<rect x="462.64" y="105.0" width="1" height="17.0" fill="#26a69a" opacity="0.8"/>
<rect x="461.99" y="113.0" width="2.3" height="6.0" fill="#26a69a"/>
<rect x="465.70" y="94.0" width="1" height="22.0" fill="#26a69a" opacity="0.8"/>
<rect x="465.05" y="98.0" width="2.3" height="16.0" fill="#26a69a"/>
<rect x="468.76" y="92.0" width="1" height="26.0" fill="#ef5350" opacity="0.8"/>
<rect x="468.11" y="98.0" width="2.3" height="19.0" fill="#ef5350"/>
<rect x="471.82" y="100.0" width="1" height="28.0" fill="#ef5350" opacity="0.8"/>
<rect x="471.17" y="116.0" width="2.3" height="8.0" fill="#ef5350"/>
<rect x="474.88" y="120.0" width="1" height="10.0" fill="#ef5350" opacity="0.8"/>
<rect x="474.23" y="123.0" width="2.3" height="3.0" fill="#ef5350"/>
<rect x="477.94" y="114.0" width="1" height="18.0" fill="#26a69a" opacity="0.8"/>
<rect x="477.29" y="116.0" width="2.3" height="10.0" fill="#26a69a"/>
<rect x="481.00" y="111.0" width="1" height="11.0" fill="#ef5350" opacity="0.8"/>
<rect x="480.35" y="116.0" width="2.3" height="2.0" fill="#ef5350"/>
<rect x="484.06" y="108.0" width="1" height="20.0" fill="#26a69a" opacity="0.8"/>
<rect x="483.41" y="111.0" width="2.3" height="6.0" fill="#26a69a"/>
<rect x="487.12" y="75.0" width="1" height="39.0" fill="#26a69a" opacity="0.8"/>
<rect x="486.47" y="89.0" width="2.3" height="23.0" fill="#26a69a"/>
<rect x="490.18" y="66.0" width="1" height="68.0" fill="#ef5350" opacity="0.8"/>
<rect x="489.53" y="89.0" width="2.3" height="36.0" fill="#ef5350"/>
<rect x="493.24" y="120.0" width="1" height="23.0" fill="#ef5350" opacity="0.8"/>
<rect x="492.59" y="124.0" width="2.3" height="9.0" fill="#ef5350"/>
<rect x="496.30" y="110.0" width="1" height="31.0" fill="#26a69a" opacity="0.8"/>
<rect x="495.65" y="111.0" width="2.3" height="22.0" fill="#26a69a"/>
<rect x="499.36" y="106.0" width="1" height="22.0" fill="#26a69a" opacity="0.8"/>
<rect x="498.71" y="108.0" width="2.3" height="16.0" fill="#26a69a"/>
<rect x="502.42" y="100.0" width="1" height="38.0" fill="#ef5350" opacity="0.8"/>
<rect x="501.77" y="108.0" width="2.3" height="8.0" fill="#ef5350"/>
<rect x="505.48" y="84.0" width="1" height="41.0" fill="#26a69a" opacity="0.8"/>
<rect x="504.83" y="92.0" width="2.3" height="24.0" fill="#26a69a"/>
<rect x="508.54" y="79.0" width="1" height="20.0" fill="#ef5350" opacity="0.8"/>
<rect x="507.89" y="92.0" width="2.3" height="2.0" fill="#ef5350"/>
<rect x="511.60" y="74.0" width="1" height="32.0" fill="#26a69a" opacity="0.8"/>
<rect x="510.95" y="75.0" width="2.3" height="19.0" fill="#26a69a"/>
<rect x="514.66" y="73.0" width="1" height="24.0" fill="#ef5350" opacity="0.8"/>
<rect x="514.01" y="75.0" width="2.3" height="7.0" fill="#ef5350"/>
<rect x="517.72" y="78.0" width="1" height="15.0" fill="#ef5350" opacity="0.8"/>
<rect x="517.07" y="80.0" width="2.3" height="5.0" fill="#ef5350"/>
<rect x="520.78" y="79.0" width="1" height="44.0" fill="#ef5350" opacity="0.8"/>
<rect x="520.13" y="84.0" width="2.3" height="34.0" fill="#ef5350"/>
<rect x="523.84" y="53.0" width="1" height="69.0" fill="#26a69a" opacity="0.8"/>
<rect x="523.19" y="60.0" width="2.3" height="59.0" fill="#26a69a"/>
<rect x="526.90" y="59.0" width="1" height="45.0" fill="#ef5350" opacity="0.8"/>
<rect x="526.25" y="60.0" width="2.3" height="42.0" fill="#ef5350"/>
<rect x="529.96" y="82.0" width="1" height="23.0" fill="#ef5350" opacity="0.8"/>
<rect x="529.31" y="100.0" width="2.3" height="3.0" fill="#ef5350"/>
<rect x="533.02" y="98.0" width="1" height="22.0" fill="#ef5350" opacity="0.8"/>
<rect x="532.37" y="101.0" width="2.3" height="11.0" fill="#ef5350"/>
<rect x="536.08" y="107.0" width="1" height="13.0" fill="#26a69a" opacity="0.8"/>
<rect x="535.43" y="108.0" width="2.3" height="5.0" fill="#26a69a"/>
<rect x="539.14" y="95.0" width="1" height="34.0" fill="#ef5350" opacity="0.8"/>
<rect x="538.49" y="111.0" width="2.3" height="16.0" fill="#ef5350"/>
<rect x="542.20" y="121.4" width="1" height="34.4" fill="#ef5350" opacity="0.8"/>
<rect x="541.55" y="125.5" width="2.3" height="26.2" fill="#ef5350"/>
<rect x="545.26" y="130.4" width="1" height="156.6" fill="#ef5350" opacity="0.8"/>
<rect x="544.61" y="151.0" width="2.3" height="135.0" fill="#ef5350"/>
<rect x="548.32" y="270.0" width="1" height="20.0" fill="#26a69a" opacity="0.8"/>
<rect x="547.67" y="274.0" width="2.3" height="11.0" fill="#26a69a"/>
<rect x="551.38" y="269.0" width="1" height="44.0" fill="#ef5350" opacity="0.8"/>
<rect x="550.73" y="274.0" width="2.3" height="25.0" fill="#ef5350"/>
<rect x="554.44" y="291.0" width="1" height="20.0" fill="#26a69a" opacity="0.8"/>
<rect x="553.79" y="292.0" width="2.3" height="18.0" fill="#26a69a"/>
<rect x="557.50" y="290.0" width="1" height="28.0" fill="#ef5350" opacity="0.8"/>
<rect x="556.85" y="293.0" width="2.3" height="19.0" fill="#ef5350"/>
<rect x="560.56" y="303.0" width="1" height="49.0" fill="#ef5350" opacity="0.8"/>
<rect x="559.91" y="312.0" width="2.3" height="29.0" fill="#ef5350"/>
<rect x="563.62" y="299.0" width="1" height="49.0" fill="#26a69a" opacity="0.8"/>
<rect x="562.97" y="318.0" width="2.3" height="23.0" fill="#26a69a"/>
<rect x="566.68" y="317.0" width="1" height="12.0" fill="#ef5350" opacity="0.8"/>
<rect x="566.03" y="319.0" width="2.3" height="5.0" fill="#ef5350"/>
<line x1="98.3" y1="525" x2="626.6" y2="0" stroke="#bdb666" stroke-width="0.95"/>
<rect x="625.7" y="283" width="183.2" height="111.8" fill="#11301c"/>
<rect x="625.7" y="394.8" width="183.2" height="51.8" fill="#42141e"/>
<g stroke="#ffffff" stroke-opacity="0.07" stroke-width="1" shape-rendering="crispEdges">
<line x1="684.5" y1="283" x2="684.5" y2="446.6"/>
<line x1="776" y1="283" x2="776" y2="446.6"/>
<line x1="625.7" y1="312.6" x2="808.9" y2="312.6"/>
<line x1="625.7" y1="349.4" x2="808.9" y2="349.4"/>
<line x1="625.7" y1="386.1" x2="808.9" y2="386.1"/>
<line x1="625.7" y1="422.8" x2="808.9" y2="422.8"/>
</g>
<line x1="0" y1="9.5" x2="883" y2="9.5" stroke="#c2c25e" stroke-width="1.4" stroke-dasharray="4.3 2.9"/>
<line x1="0" y1="397.7" x2="626.2" y2="397.7" stroke="#c2c25e" stroke-width="1.4" stroke-dasharray="4.3 2.9"/>
<line x1="626.4" y1="397.7" x2="808.9" y2="397.7" stroke="#c88a86" stroke-opacity="0.6" stroke-width="1.2" stroke-dasharray="3.2 4" stroke-dashoffset="-0.6"/>
<line x1="813.6" y1="397.7" x2="883" y2="397.7" stroke="#c2c25e" stroke-width="1.4" stroke-dasharray="4.3 2.9"/>
<line x1="619" y1="166" x2="818" y2="167.3" stroke="#00b000" stroke-width="1.6"/>
<g stroke="#ff0000" stroke-width="1.5" fill="none" stroke-linecap="round"><line x1="607" y1="346.5" x2="637.6" y2="394"/><polyline points="626,392.5 637.6,394 639.3,381.6"/></g>
<g stroke="#00c800" stroke-width="1.6" fill="none" stroke-linecap="round"><line x1="640.4" y1="394.6" x2="685.8" y2="286"/><polyline points="675.5,289.4 685.8,286 690.2,297.9"/></g>
<g stroke="#00c800" stroke-width="1.6" fill="none" stroke-linecap="round"><line x1="698.7" y1="273.9" x2="741.3" y2="178.9"/><polyline points="730.7,183 741.3,178.9 745.2,190.8"/></g>
</g>
<rect x="883" y="0" width="1" height="550" fill="#6f6b63"/>
<rect x="0" y="525" width="884" height="1" fill="#6f6b63"/>
<rect x="884" y="18.3" width="3.5" height="1" fill="#6f6b63"/>
<text x="891.2" y="22.8" font-size="11" fill="#c8c8c0" stroke="#c8c8c0" stroke-width="0.25" textLength="34" lengthAdjust="spacingAndGlyphs">1.33400</text>
<rect x="884" y="55.0" width="3.5" height="1" fill="#6f6b63"/>
<text x="891.2" y="59.5" font-size="11" fill="#c8c8c0" stroke="#c8c8c0" stroke-width="0.25" textLength="34" lengthAdjust="spacingAndGlyphs">1.33200</text>
<rect x="884" y="91.8" width="3.5" height="1" fill="#6f6b63"/>
<text x="891.2" y="96.3" font-size="11" fill="#c8c8c0" stroke="#c8c8c0" stroke-width="0.25" textLength="34" lengthAdjust="spacingAndGlyphs">1.33000</text>
<rect x="884" y="128.5" width="3.5" height="1" fill="#6f6b63"/>
<text x="891.2" y="133.0" font-size="11" fill="#c8c8c0" stroke="#c8c8c0" stroke-width="0.25" textLength="34" lengthAdjust="spacingAndGlyphs">1.32800</text>
<rect x="884" y="165.2" width="3.5" height="1" fill="#6f6b63"/>
<text x="891.2" y="169.7" font-size="11" fill="#c8c8c0" stroke="#c8c8c0" stroke-width="0.25" textLength="34" lengthAdjust="spacingAndGlyphs">1.32600</text>
<rect x="884" y="201.9" width="3.5" height="1" fill="#6f6b63"/>
<text x="891.2" y="206.4" font-size="11" fill="#c8c8c0" stroke="#c8c8c0" stroke-width="0.25" textLength="34" lengthAdjust="spacingAndGlyphs">1.32400</text>
<rect x="884" y="238.7" width="3.5" height="1" fill="#6f6b63"/>
<text x="891.2" y="243.2" font-size="11" fill="#c8c8c0" stroke="#c8c8c0" stroke-width="0.25" textLength="34" lengthAdjust="spacingAndGlyphs">1.32200</text>
<rect x="884" y="275.4" width="3.5" height="1" fill="#6f6b63"/>
<text x="891.2" y="279.9" font-size="11" fill="#c8c8c0" stroke="#c8c8c0" stroke-width="0.25" textLength="34" lengthAdjust="spacingAndGlyphs">1.32000</text>
<rect x="884" y="312.1" width="3.5" height="1" fill="#6f6b63"/>
<text x="891.2" y="316.6" font-size="11" fill="#c8c8c0" stroke="#c8c8c0" stroke-width="0.25" textLength="34" lengthAdjust="spacingAndGlyphs">1.31800</text>
<rect x="884" y="348.9" width="3.5" height="1" fill="#6f6b63"/>
<text x="891.2" y="353.4" font-size="11" fill="#c8c8c0" stroke="#c8c8c0" stroke-width="0.25" textLength="34" lengthAdjust="spacingAndGlyphs">1.31600</text>
<rect x="884" y="385.6" width="3.5" height="1" fill="#6f6b63"/>
<text x="891.2" y="390.1" font-size="11" fill="#c8c8c0" stroke="#c8c8c0" stroke-width="0.25" textLength="34" lengthAdjust="spacingAndGlyphs">1.31400</text>
<rect x="884" y="422.3" width="3.5" height="1" fill="#6f6b63"/>
<text x="891.2" y="426.8" font-size="11" fill="#c8c8c0" stroke="#c8c8c0" stroke-width="0.25" textLength="34" lengthAdjust="spacingAndGlyphs">1.31200</text>
<rect x="884" y="459.1" width="3.5" height="1" fill="#6f6b63"/>
<text x="891.2" y="463.6" font-size="11" fill="#c8c8c0" stroke="#c8c8c0" stroke-width="0.25" textLength="34" lengthAdjust="spacingAndGlyphs">1.31000</text>
<rect x="884" y="495.8" width="3.5" height="1" fill="#6f6b63"/>
<text x="891.2" y="500.3" font-size="11" fill="#c8c8c0" stroke="#c8c8c0" stroke-width="0.25" textLength="34" lengthAdjust="spacingAndGlyphs">1.30800</text>
<rect x="883" y="1" width="49" height="16" fill="#ffff55"/>
<rect x="884" y="8.5" width="3" height="1" fill="#3a3a3a" opacity="0.8"/>
<text x="891.2" y="13.0" font-size="11" fill="#3a3a3a" textLength="34" lengthAdjust="spacingAndGlyphs">1.33450</text>
<rect x="883" y="275" width="49" height="16" fill="#00a000"/>
<rect x="884" y="282.5" width="3" height="1" fill="#f4f4d8" opacity="0.8"/>
<text x="891.2" y="287.0" font-size="11" fill="#f4f4d8" textLength="34" lengthAdjust="spacingAndGlyphs">1.31960</text>
<rect x="883" y="315" width="49" height="16.5" fill="#ef5350"/>
<rect x="884" y="322.8" width="3" height="1" fill="#f4f4c8" opacity="0.8"/>
<text x="891.2" y="327.2" font-size="11" fill="#f4f4c8" textLength="34" lengthAdjust="spacingAndGlyphs">1.31740</text>
<rect x="883" y="386" width="49" height="16" fill="#5c5c5c"/>
<rect x="884" y="393.5" width="3" height="1" fill="#f0f0d0" opacity="0.8"/>
<text x="891.2" y="398.0" font-size="11" fill="#f0f0d0" textLength="34" lengthAdjust="spacingAndGlyphs">1.31361</text>
<rect x="883" y="402" width="49" height="3.4" fill="#ffff55"/>
<rect x="883" y="438" width="49" height="16" fill="#ff0000"/>
<rect x="884" y="445.5" width="3" height="1" fill="#f4f4d0" opacity="0.8"/>
<text x="891.2" y="450.0" font-size="11" fill="#f4f4d0" textLength="34" lengthAdjust="spacingAndGlyphs">1.31075</text>
<rect x="41.0" y="526" width="1" height="2.5" fill="#6f6b63"/>
<text x="35.7" y="543.4" font-size="11.5" fill="#dcdcc4" stroke="#dcdcc4" stroke-width="0.25" textLength="10.8" lengthAdjust="spacingAndGlyphs">28</text>
<rect x="114.5" y="526" width="1" height="2.5" fill="#6f6b63"/>
<text x="106.1" y="543.4" font-size="11.5" fill="#dcdcc4" stroke="#dcdcc4" stroke-width="0.25" font-weight="bold" textLength="17" lengthAdjust="spacingAndGlyphs">Nov</text>
<rect x="224.5" y="526" width="1" height="2.5" fill="#6f6b63"/>
<text x="219.2" y="543.4" font-size="11.5" fill="#dcdcc4" stroke="#dcdcc4" stroke-width="0.25" textLength="10.8" lengthAdjust="spacingAndGlyphs">11</text>
<rect x="316.5" y="526" width="1" height="2.5" fill="#6f6b63"/>
<text x="311.2" y="543.4" font-size="11.5" fill="#dcdcc4" stroke="#dcdcc4" stroke-width="0.25" textLength="10.8" lengthAdjust="spacingAndGlyphs">18</text>
<rect x="407.8" y="526" width="1" height="2.5" fill="#6f6b63"/>
<text x="402.5" y="543.4" font-size="11.5" fill="#dcdcc4" stroke="#dcdcc4" stroke-width="0.25" textLength="10.8" lengthAdjust="spacingAndGlyphs">25</text>
<rect x="497.5" y="526" width="1" height="2.5" fill="#6f6b63"/>
<text x="489.2" y="543.4" font-size="11.5" fill="#dcdcc4" stroke="#dcdcc4" stroke-width="0.25" font-weight="bold" textLength="16.7" lengthAdjust="spacingAndGlyphs">Dec</text>
<rect x="592.2" y="526" width="1" height="2.5" fill="#6f6b63"/>
<text x="589.6" y="543.4" font-size="11.5" fill="#dcdcc4" stroke="#dcdcc4" stroke-width="0.25" textLength="5.4" lengthAdjust="spacingAndGlyphs">9</text>
<rect x="684.0" y="526" width="1" height="2.5" fill="#6f6b63"/>
<text x="678.7" y="543.4" font-size="11.5" fill="#dcdcc4" stroke="#dcdcc4" stroke-width="0.25" textLength="10.8" lengthAdjust="spacingAndGlyphs">16</text>
<rect x="775.5" y="526" width="1" height="2.5" fill="#6f6b63"/>
<text x="770.2" y="543.4" font-size="11.5" fill="#dcdcc4" stroke="#dcdcc4" stroke-width="0.25" textLength="10.8" lengthAdjust="spacingAndGlyphs">23</text>
<text x="6.6" y="19.2" font-size="11" font-weight="bold" fill="#dcdccc" textLength="206" lengthAdjust="spacingAndGlyphs">U.S. Dollar / Canadian Dollar, 240, OANDA</text>
<text x="6.6" y="34.3" font-size="11" fill="#c8c8bc" textLength="36.5" lengthAdjust="spacingAndGlyphs">Vol (20)</text>
<circle cx="640.5" cy="513.8" r="9.6" fill="#131722" stroke="#cf7a3a" stroke-width="1"/>
<circle cx="638.5" cy="513.8" r="9.6" fill="none" stroke="#e0504c" stroke-width="1"/>
<clipPath id="cu4"><circle cx="638.5" cy="514.3" r="7.6"/></clipPath><g clip-path="url(#cu4)"><rect x="630.9" y="506.69999999999993" width="15.2" height="15.2" fill="#e9e9b4"/><rect x="630.9" y="506.70" width="15.2" height="2.17" fill="#e8534f"/><rect x="630.9" y="511.04" width="15.2" height="2.17" fill="#e8534f"/><rect x="630.9" y="515.39" width="15.2" height="2.17" fill="#e8534f"/><rect x="630.9" y="519.73" width="15.2" height="2.17" fill="#e8534f"/><rect x="630.9" y="506.69999999999993" width="7.9799999999999995" height="7.82" fill="#2b8f8f"/><rect x="630.9" y="508.30" width="7.9799999999999995" height="0.8" fill="#e9e9b4" opacity="0.8"/><rect x="630.9" y="510.30" width="7.9799999999999995" height="0.8" fill="#e9e9b4" opacity="0.8"/><rect x="630.9" y="512.30" width="7.9799999999999995" height="0.8" fill="#e9e9b4" opacity="0.8"/><rect x="632.70" y="506.69999999999993" width="0.8" height="7.82" fill="#2b8f8f"/><rect x="634.90" y="506.69999999999993" width="0.8" height="7.82" fill="#2b8f8f"/><rect x="637.10" y="506.69999999999993" width="0.8" height="7.82" fill="#2b8f8f"/></g>
<circle cx="620" cy="513.6" r="9.8" fill="#131722" stroke="#cf7a3a" stroke-width="1"/>
<circle cx="617" cy="513.6" r="9.8" fill="none" stroke="#cf7a3a" stroke-width="1"/>
<circle cx="618.5" cy="514.2" r="9.3" fill="none" stroke="#cf7a3a" stroke-width="1"/>
<clipPath id="cu3"><circle cx="618.5" cy="513.6" r="7.6"/></clipPath><g clip-path="url(#cu3)"><rect x="610.9" y="506.0" width="15.2" height="15.2" fill="#e9e9b4"/><rect x="610.9" y="506.00" width="15.2" height="2.17" fill="#e8534f"/><rect x="610.9" y="510.34" width="15.2" height="2.17" fill="#e8534f"/><rect x="610.9" y="514.69" width="15.2" height="2.17" fill="#e8534f"/><rect x="610.9" y="519.03" width="15.2" height="2.17" fill="#e8534f"/><rect x="610.9" y="506.0" width="7.9799999999999995" height="7.82" fill="#2b8f8f"/><rect x="610.9" y="507.60" width="7.9799999999999995" height="0.8" fill="#e9e9b4" opacity="0.8"/><rect x="610.9" y="509.60" width="7.9799999999999995" height="0.8" fill="#e9e9b4" opacity="0.8"/><rect x="610.9" y="511.60" width="7.9799999999999995" height="0.8" fill="#e9e9b4" opacity="0.8"/><rect x="612.70" y="506.0" width="0.8" height="7.82" fill="#2b8f8f"/><rect x="614.90" y="506.0" width="0.8" height="7.82" fill="#2b8f8f"/><rect x="617.10" y="506.0" width="0.8" height="7.82" fill="#2b8f8f"/></g>
<circle cx="598.8" cy="514" r="9.4" fill="#131722" stroke="#cf7a3a" stroke-width="1"/>
<clipPath id="cc2"><circle cx="598.8" cy="514.2" r="6.9"/></clipPath><g clip-path="url(#cc2)"><rect x="591.9" y="507.30000000000007" width="13.8" height="13.8" fill="#e8534f"/><rect x="595.212" y="507.30000000000007" width="7.176000000000001" height="13.8" fill="#e9e9b4"/><path d="M598.8 511.40000000000003 L599.6999999999999 513.0 L601.4 513.0 L600.0999999999999 514.9000000000001 L599.3 514.9000000000001 L599.3 516.8000000000001 L598.3 516.8000000000001 L598.3 514.9000000000001 L597.5 514.9000000000001 L596.1999999999999 513.0 L597.9 513.0 Z" fill="#e8534f"/></g>
<circle cx="582.3" cy="513.4" r="9.4" fill="#131722" stroke="#cf7a3a" stroke-width="1"/>
<circle cx="580.5" cy="512.6" r="9.6" fill="none" stroke="#e0504c" stroke-width="1"/>
<clipPath id="cu1"><circle cx="581.3" cy="513" r="7.6"/></clipPath><g clip-path="url(#cu1)"><rect x="573.6999999999999" y="505.4" width="15.2" height="15.2" fill="#e9e9b4"/><rect x="573.6999999999999" y="505.40" width="15.2" height="2.17" fill="#e8534f"/><rect x="573.6999999999999" y="509.74" width="15.2" height="2.17" fill="#e8534f"/><rect x="573.6999999999999" y="514.09" width="15.2" height="2.17" fill="#e8534f"/><rect x="573.6999999999999" y="518.43" width="15.2" height="2.17" fill="#e8534f"/><rect x="573.6999999999999" y="505.4" width="7.9799999999999995" height="7.82" fill="#2b8f8f"/><rect x="573.6999999999999" y="507.00" width="7.9799999999999995" height="0.8" fill="#e9e9b4" opacity="0.8"/><rect x="573.6999999999999" y="509.00" width="7.9799999999999995" height="0.8" fill="#e9e9b4" opacity="0.8"/><rect x="573.6999999999999" y="511.00" width="7.9799999999999995" height="0.8" fill="#e9e9b4" opacity="0.8"/><rect x="575.50" y="505.4" width="0.8" height="7.82" fill="#2b8f8f"/><rect x="577.70" y="505.4" width="0.8" height="7.82" fill="#2b8f8f"/><rect x="579.90" y="505.4" width="0.8" height="7.82" fill="#2b8f8f"/></g>
<circle cx="580.5" cy="490.5" r="9.5" fill="#131722" stroke="#e0504c" stroke-width="1"/>
<clipPath id="cc0"><circle cx="580.5" cy="490.6" r="6.9"/></clipPath><g clip-path="url(#cc0)"><rect x="573.6" y="483.70000000000005" width="13.8" height="13.8" fill="#e8534f"/><rect x="576.912" y="483.70000000000005" width="7.176000000000001" height="13.8" fill="#e9e9b4"/><path d="M580.5 487.8 L581.4 489.40000000000003 L583.1 489.40000000000003 L581.8 491.3 L581.0 491.3 L581.0 493.20000000000005 L580.0 493.20000000000005 L580.0 491.3 L579.2 491.3 L577.9 489.40000000000003 L579.6 489.40000000000003 Z" fill="#e8534f"/></g>
<ellipse cx="644.4" cy="505.9" rx="7.2" ry="6.3" fill="#e9e9b4"/><text x="644.4" y="509.0" font-size="9" fill="#4c4c4c" text-anchor="middle">7</text>
<ellipse cx="629" cy="505.9" rx="7" ry="6.3" fill="#e9e9b4"/><text x="629" y="509.0" font-size="9" fill="#4c4c4c" text-anchor="middle">3</text>
<ellipse cx="605.6" cy="505.9" rx="5.9" ry="6.3" fill="#e9e9b4"/><text x="605.6" y="509.0" font-size="9" fill="#4c4c4c" text-anchor="middle">2</text>
<ellipse cx="588.6" cy="505.7" rx="5.9" ry="6.3" fill="#e9e9b4"/><text x="588.6" y="508.8" font-size="9" fill="#4c4c4c" text-anchor="middle">6</text>
<ellipse cx="588.8" cy="484.2" rx="5.9" ry="6.3" fill="#e9e9b4"/><text x="588.8" y="487.3" font-size="9" fill="#4c4c4c" text-anchor="middle">6</text>
</svg>
</body></html>
